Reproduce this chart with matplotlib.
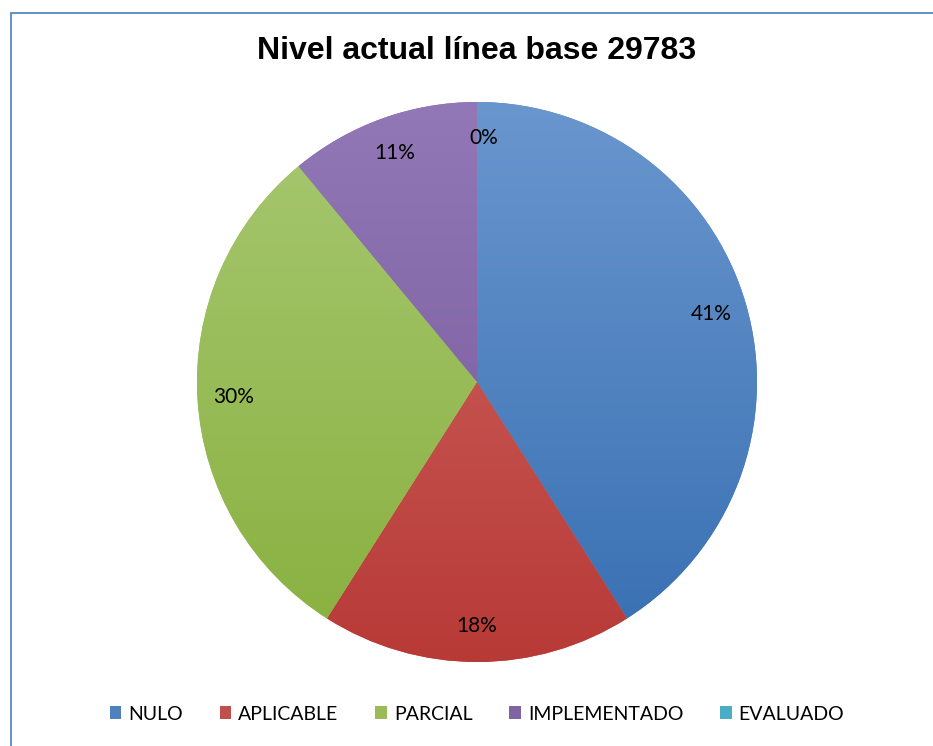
import numpy as np
import matplotlib
matplotlib.use("Agg")
import matplotlib.pyplot as plt
from matplotlib.colors import to_rgb
from matplotlib.patches import Rectangle, Patch

# data
categories = ["NULO", "APLICABLE", "PARCIAL", "IMPLEMENTADO", "EVALUADO"]
percent = [41, 18, 30, 11, 0]
colors = ["#4F81BD", "#C0504D", "#9BBB59", "#8064A2", "#4BACC6"]
top_colors = ["#6A96CE", "#D06864", "#A8C872", "#9278B6", "#62BCD4"]
bottom_colors = ["#376FB2", "#B83A37", "#88B03E", "#74569A", "#369DB9"]
title = "Nivel actual línea base 29783"

plt.rcParams["font.family"] = ["Lato", "DejaVu Sans"]

W, H = 933, 746
fig = plt.figure(figsize=(W / 100, H / 100), dpi=100)

# pie axes: center (477, 382) px, radius 280 px
cx, cy, r = 477, 382, 280
ax = fig.add_axes([(cx - r) / W, 1 - (cy + r) / H, 2 * r / W, 2 * r / H])

wedges, texts, autotexts = ax.pie(
    percent, colors=colors, startangle=90, counterclock=False,
    autopct="%.0f%%", pctdistance=0.87, radius=1.0,
    wedgeprops=dict(linewidth=0), textprops=dict(fontsize=15, color="black"))
for t in autotexts:
    t.set_zorder(5)
autotexts[-1].set_x(autotexts[-1].get_position()[0] + 0.025)

# light-to-dark vertical shading on every slice
yy = np.linspace(1, 0, 256)[:, None, None]
for w, c1, c2 in zip(wedges, top_colors, bottom_colors):
    top = np.array(to_rgb(c1))
    bot = np.array(to_rgb(c2))
    img = top[None, None, :] * yy + bot[None, None, :] * (1 - yy)
    img = np.repeat(img, 2, axis=1)
    im = ax.imshow(img, extent=[-1, 1, -1, 1], origin="upper", zorder=2,
                   interpolation="bilinear")
    im.set_clip_path(w)
ax.set_xlim(-1, 1)
ax.set_ylim(-1, 1)
ax.set_aspect("equal")
ax.axis("off")

fig.text(cx / W, 1 - 51 / H, title, ha="center", va="center",
         fontsize=23, fontweight="bold", family=["Liberation Sans", "DejaVu Sans"])

handles = [Patch(facecolor=c, edgecolor="none") for c in colors]
fig.legend(handles, categories, loc="center", ncol=5,
           bbox_to_anchor=(cx / W, 1 - 714 / H), frameon=False,
           fontsize=14, handlelength=0.6, handleheight=0.6,
           handletextpad=0.35, columnspacing=1.9)

# chart area border (only top and left visible in the crop)
fig.patches.append(Rectangle((10.5 / W, -0.1), 1.2, 1 - 12.5 / H + 0.1,
                             transform=fig.transFigure, fill=False,
                             edgecolor="#4A7EBB", linewidth=1.2))

fig.savefig("out.png", dpi=100)
